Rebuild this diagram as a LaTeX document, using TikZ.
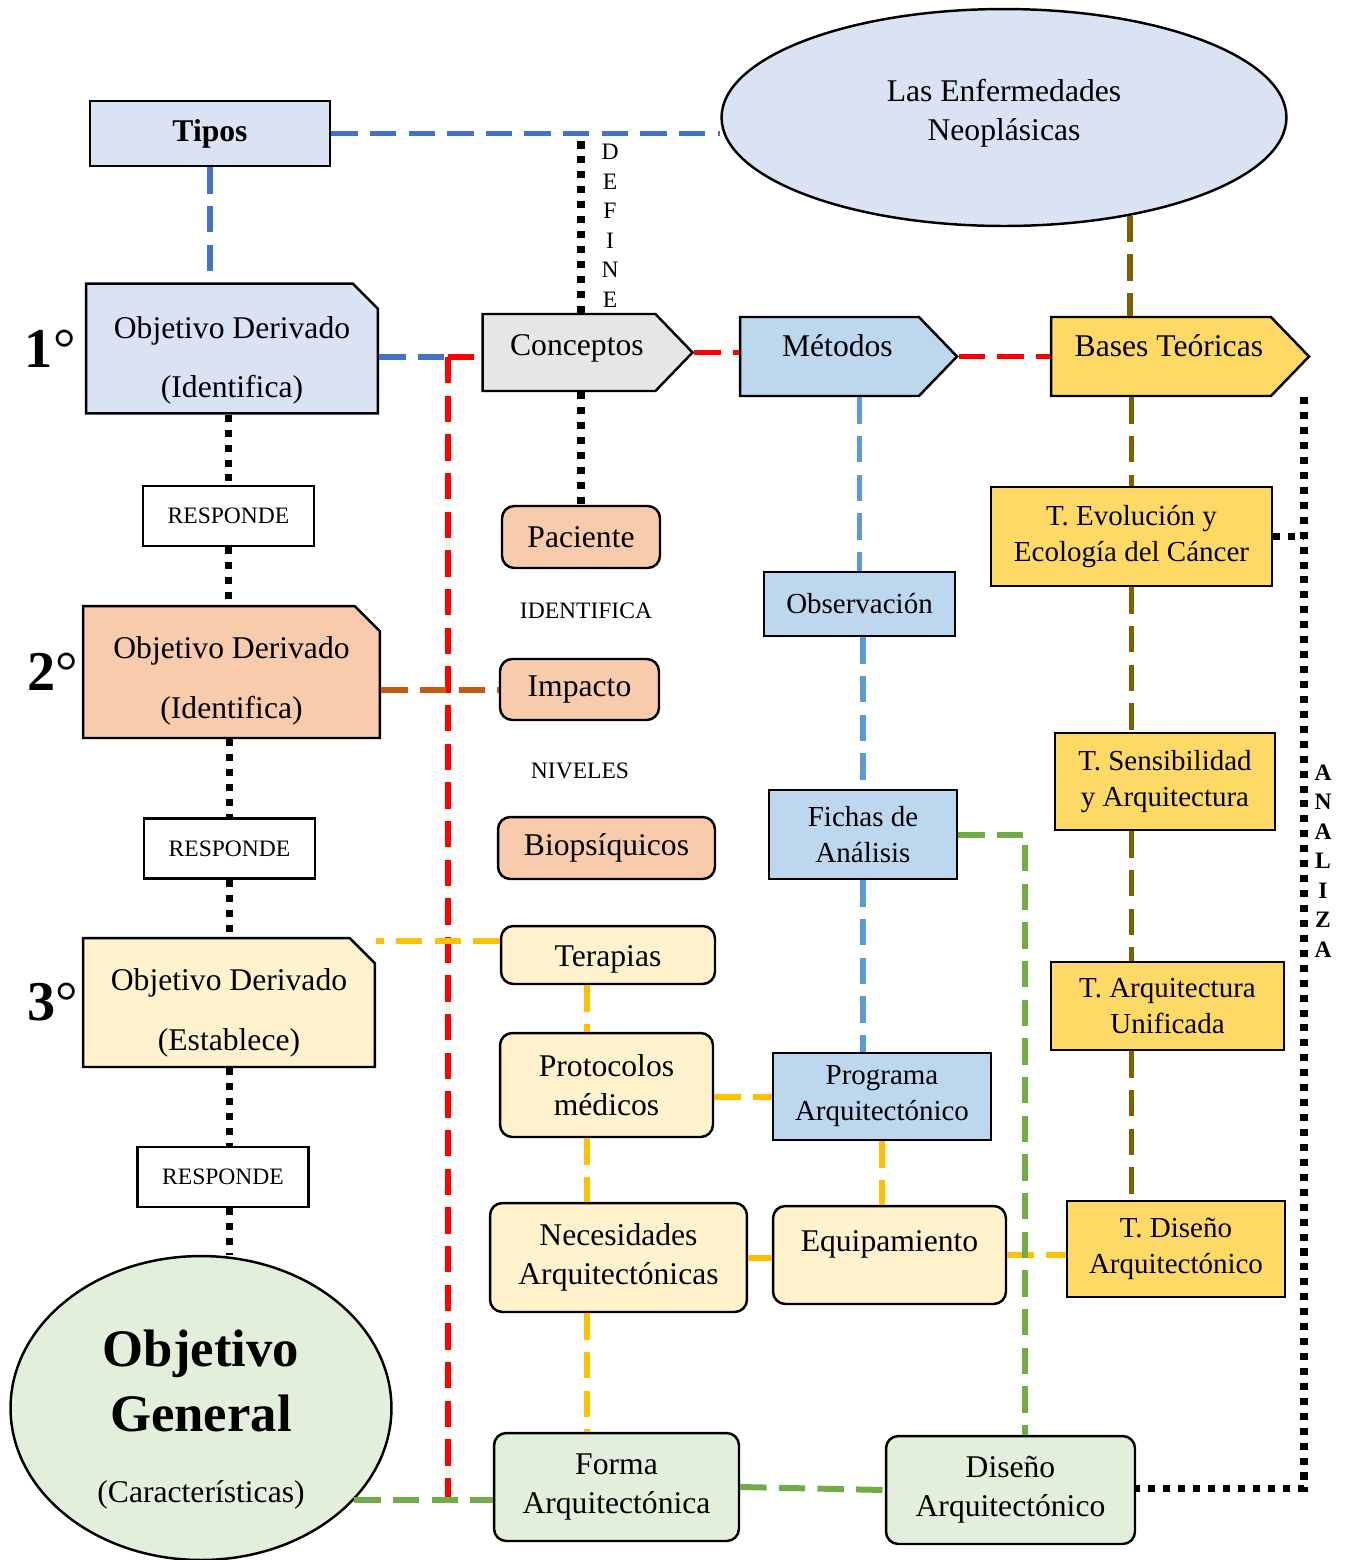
\documentclass[tikz,border=0pt]{standalone}
\usepackage{fontspec}
\setmainfont{Liberation Serif}
\usetikzlibrary{positioning,shapes.geometric,shapes.misc,shapes.symbols}
\definecolor{TipoBlue}{HTML}{DAE3F3}
\definecolor{LineBlue}{HTML}{4472C4}
\definecolor{MetBlue}{HTML}{BDD7EE}
\definecolor{SkyLine}{HTML}{5B9BD5}
\definecolor{ConcGray}{HTML}{E7E6E6}
\definecolor{BaseGold}{HTML}{FFD966}
\definecolor{BaseBrown}{HTML}{7F6000}
\definecolor{PeachFill}{HTML}{F8CBAD}
\definecolor{PeachLine}{HTML}{C55A11}
\definecolor{CreamFill}{HTML}{FFF2CC}
\definecolor{AmberLine}{HTML}{FFC000}
\definecolor{SageFill}{HTML}{E2EFDA}
\definecolor{SageLine}{HTML}{70AD47}

\begin{document}
\begin{tikzpicture}[x=0.02cm, y=-0.02cm,
    box/.style={draw=black, line width=1.4pt, inner sep=2pt, align=center, font=\fontsize{18}{22}\selectfont},
    tbox/.style={box, font=\fontsize{16.5}{20.5}\selectfont},
    rbox/.style={box, rounded corners=7pt},
    objbox/.style={box, chamfered rectangle, chamfered rectangle corners=north east, chamfered rectangle xsep=0.4cm},
    arrowbox/.style={box, signal, signal to=east, signal pointer angle=92},
    respbox/.style={draw=black, line width=1.4pt, minimum width=3.42cm, minimum height=1.2cm, font=\fontsize{13.4}{16}\selectfont},
    word/.style={font=\fontsize{13.4}{16}\selectfont},
    link/.style={line width=3.4pt, dash pattern=on 15pt off 7pt},
    dotlink/.style={line width=4pt, dash pattern=on 4pt off 4.5pt, black},
    numlabel/.style={font=\fontsize{32}{36}\selectfont}
  ]
  \useasboundingbox (0,0) rectangle (1349,1560);

  % cabecera
  \node[box, fill=TipoBlue, font=\fontsize{18}{22}\selectfont\bfseries, minimum width=4.8cm, minimum height=1.3cm] (tipos) at (210,133.5) {Tipos};
  \node[box, ellipse, fill=TipoBlue, minimum width=11.3cm, minimum height=4.34cm] (enf) at (1004,117.5) {Las Enfermedades\\Neoplásicas\rule[-9pt]{0pt}{9pt}};

  % objetivos derivados
  \node[objbox, fill=TipoBlue, minimum width=5.84cm, minimum height=2.54cm] (obj1) at (232,348.5) {\rule{0pt}{26pt}Objetivo Derivado\\[12pt](Identifica)};
  \node[objbox, fill=PeachFill, minimum width=5.94cm, minimum height=2.64cm] (obj2) at (231.5,672) {\rule{0pt}{23pt}Objetivo Derivado\\[12pt](Identifica)};
  \node[objbox, fill=CreamFill, minimum width=5.84cm, minimum height=2.58cm] (obj3) at (229,1002.5) {\rule{0pt}{24pt}Objetivo Derivado\\[12pt](Establece)};
  \node[numlabel, left=0.06cm of obj1] (num1) {\textbf{1}°};
  \node[numlabel, left=-0.05cm of obj2] (num2) {\textbf{2}°};
  \node[numlabel, left=-0.05cm of obj3] (num3) {\textbf{3}°};

  \node[respbox] (resp1) at (228.5,516) {RESPONDE};
  \node[respbox] (resp2) at (229.5,848.5) {RESPONDE};
  \node[respbox] (resp3) at (223,1177) {RESPONDE};

  \node[box, ellipse, fill=SageFill, minimum width=7.62cm, minimum height=6.08cm, font=\fontsize{30}{37}\selectfont\bfseries] (objgen) at (201,1408) {\rule{0pt}{34pt}Objetivo\\General\\[3pt]\fontsize{18}{22}\selectfont\mdseries (Características)};

  % conceptos, metodos, bases
  \node[arrowbox, fill=ConcGray, minimum width=4.2cm, minimum height=1.54cm, text depth=9pt] (conc) at (569,352.5) {\hspace*{9pt}Conceptos};
  \node[arrowbox, fill=MetBlue, minimum width=4.34cm, minimum height=1.58cm, text depth=13pt] (met) at (829.5,356.5) {\hspace*{9pt}Métodos};
  \node[arrowbox, fill=BaseGold, minimum width=5.16cm, minimum height=1.58cm, text depth=13pt] (bases) at (1161,356.5) {\hspace*{9pt}Bases Teóricas};

  \node[rbox, fill=PeachFill, minimum width=3.16cm, minimum height=1.24cm] (pac) at (581,537) {Paciente};
  \node[word] (ident) at (586,611) {IDENTIFICA};
  \node[rbox, fill=PeachFill, minimum width=3.18cm, minimum height=1.22cm] (imp) at (579.5,689.5) {Impacto};
  \node[word] (nivel) at (580,771) {NIVELES};
  \node[rbox, fill=PeachFill, minimum width=4.34cm, minimum height=1.24cm] (bio) at (606.5,848) {Biopsíquicos};

  \node[rbox, fill=CreamFill, minimum width=4.28cm, minimum height=1.16cm] (ter) at (608,955) {\rule{0pt}{17pt}Terapias};
  \node[rbox, fill=CreamFill, minimum width=4.26cm, minimum height=2.08cm] (prot) at (606.5,1085) {Protocolos\\médicos};
  \node[rbox, fill=CreamFill, minimum width=5.14cm, minimum height=2.18cm] (nec) at (618.5,1257.5) {Necesidades\\Arquitectónicas};
  \node[rbox, fill=CreamFill, minimum width=4.66cm, minimum height=1.96cm] (equip) at (889.5,1255) {Equipamiento\rule[-16pt]{0pt}{16pt}};
  \node[rbox, fill=SageFill, minimum width=4.9cm, minimum height=2.16cm] (forma) at (616.5,1487) {Forma\\Arquitectónica};
  \node[rbox, fill=SageFill, minimum width=4.98cm, minimum height=2.16cm] (diseno) at (1010.5,1490) {Diseño\\Arquitectónico};

  \node[tbox, fill=MetBlue, minimum width=3.82cm, minimum height=1.28cm] (obs) at (859.5,604) {Observación};
  \node[tbox, fill=MetBlue, minimum width=3.76cm, minimum height=1.78cm] (fic) at (863,834.5) {Fichas de\\Análisis};
  \node[tbox, fill=MetBlue, minimum width=4.36cm, minimum height=1.74cm] (prog) at (882,1096.5) {Programa\\Arquitectónico};

  \node[tbox, fill=BaseGold, minimum width=5.62cm, minimum height=1.98cm] (tevo) at (1131.5,536.5) {T. Evolución y\\Ecología del Cáncer};
  \node[tbox, fill=BaseGold, minimum width=4.4cm, minimum height=1.94cm] (tsens) at (1165,781.5) {T. Sensibilidad\\y Arquitectura};
  \node[tbox, fill=BaseGold, minimum width=4.66cm, minimum height=1.76cm] (tunif) at (1167.5,1006) {T. Arquitectura\\Unificada};
  \node[tbox, fill=BaseGold, minimum width=4.36cm, minimum height=1.92cm] (tdis) at (1176,1249) {T. Diseño\\Arquitectónico};

  \node[word, align=center, font=\fontsize{13.4}{16.8}\selectfont] (define) at (610,226) {D\\E\\F\\I\\N\\E};
  \node[word, align=center, font=\fontsize{13.4}{16.8}\selectfont\bfseries] (analiza) at (1323,861) {A\\N\\A\\L\\I\\Z\\A};

  \coordinate (rj) at (448,357);
  \coordinate (ycol) at (587,1100);
  \coordinate (an) at (1304,1488);

  % conectores
  \draw[dotlink] (pac.north |- conc.north) -- (pac.north |- tipos.east);
  \draw[link, LineBlue] (tipos.east) -- (enf.west |- tipos.east);
  \draw[link, LineBlue] (tipos.south) -- (tipos.south |- obj1.north);
  \draw[link, LineBlue] (obj1.east |- rj) -- (rj);
  \draw[link, red] (rj) -- (rj -| conc.west);
  \draw[link, red] (rj) -- (rj |- objgen.-31);
  \draw[link, red] (conc.east) -- (conc.east -| met.west);
  \draw[link, red] (met.east) -- (met.east -| bases.west);

  \draw[link, BaseBrown] (enf.-38) -- (enf.-38 |- bases.north);
  \draw[link, BaseBrown] (tevo.north |- bases.south) -- (tevo.north);
  \draw[link, BaseBrown] (tevo.south) -- (tevo.south |- tsens.north);
  \draw[link, BaseBrown] (tevo.south |- tsens.south) -- (tevo.south |- tunif.north);
  \draw[link, BaseBrown] (tevo.south |- tunif.south) -- (tevo.south |- tdis.north);

  \draw[dotlink] (an |- bases.south) -- (an) -- (an -| diseno.east);
  \draw[dotlink] (tevo.east) -- (tevo.east -| an);

  \draw[dotlink] (pac.north |- conc.south) -- (pac.north);
  \draw[dotlink] (resp1.north |- obj1.south) -- (resp1.north);
  \draw[dotlink] (resp1.south) -- (resp1.south |- obj2.north);
  \draw[dotlink] (resp2.north |- obj2.south) -- (resp2.north);
  \draw[dotlink] (resp2.south) -- (resp2.south |- obj3.north);
  \draw[dotlink] (resp2.south |- obj3.south) -- (resp2.south |- resp3.north);
  \draw[dotlink] (resp2.south |- resp3.south) -- (resp2.south |- objgen.north);

  \draw[link, PeachLine] (obj2.east |- imp.west) -- (imp.west);

  \draw[link, AmberLine] ([yshift=0.28cm]ter.west) -- ([yshift=0.28cm]ter.west -| obj3.east);
  \draw[link, AmberLine] (ycol |- ter.south) -- (ycol |- prot.north);
  \draw[link, AmberLine] (ycol |- prot.south) -- (ycol |- nec.north);
  \draw[link, AmberLine] (ycol |- nec.south) -- (ycol |- forma.north);
  \draw[link, AmberLine] (prog.west -| prot.east) -- (prog.west);
  \draw[link, AmberLine] (nec.east) -- (nec.east -| equip.west);
  \draw[link, AmberLine] (prog.south) -- (prog.south |- equip.north);
  \draw[link, AmberLine] (equip.east) -- (equip.east -| tdis.west);

  \draw[link, SkyLine] (obs.north |- met.south) -- (obs.north);
  \draw[link, SkyLine] (fic.north |- obs.south) -- (fic.north);
  \draw[link, SkyLine] (fic.south) -- (fic.south |- prog.north);

  \draw[link, SageLine] (objgen.-31) -- (forma.west |- objgen.-31);
  \draw[link, SageLine] (forma.east) -- (diseno.west);
  \draw[link, SageLine] (fic.east) -| ([xshift=0.29cm]diseno.north);
\end{tikzpicture}
\end{document}
